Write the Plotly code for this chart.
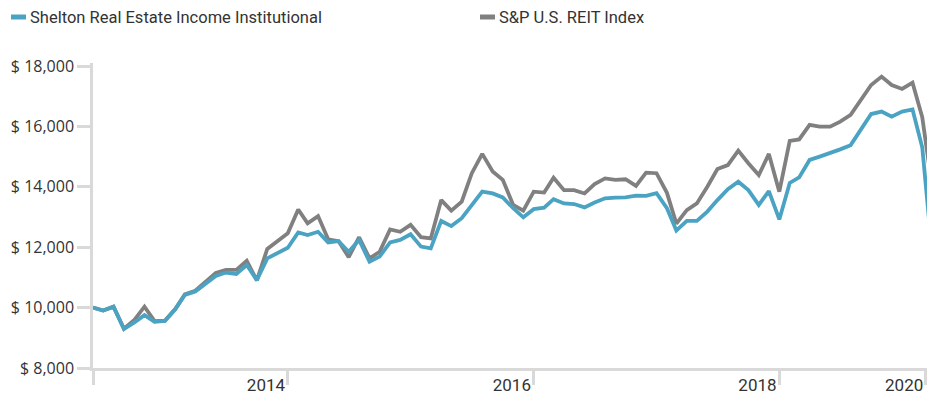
import pandas as pd
import plotly.graph_objects as go

# Monthly month-end values, May 2013 - Mar 2020 (growth of $10,000)
months = pd.date_range("2013-05-31", periods=83, freq="ME")

shelton = [
    10000, 9900, 10030, 9290, 9500, 9750, 9530, 9560, 9950, 10420,
    10530, 10780, 11050, 11160, 11110, 11410, 10910, 11630, 11800, 11980,
    12490, 12400, 12510, 12160, 12200, 11850, 12240, 11520, 11690, 12160,
    12240, 12430, 12020, 11960, 12870, 12700, 12960, 13400, 13840, 13780,
    13650, 13290, 12990, 13260, 13310, 13590, 13450, 13430, 13320, 13480,
    13620, 13640, 13650, 13710, 13700, 13790, 13290, 12550, 12870, 12870,
    13180, 13560, 13920, 14170, 13890, 13400, 13860, 12920, 14130, 14310,
    14890, 15000, 15110, 15240, 15380, 15900, 16410, 16490, 16320, 16490,
    16560, 15300, 11600,
]

reit = [
    10000, 9900, 10030, 9300, 9580, 10030, 9550, 9570, 9960, 10440,
    10560, 10850, 11150, 11250, 11250, 11550, 10900, 11940, 12180, 12460,
    13250, 12790, 13030, 12260, 12200, 11670, 12330, 11630, 11850, 12590,
    12510, 12740, 12330, 12290, 13560, 13210, 13510, 14450, 15090, 14510,
    14230, 13400, 13210, 13840, 13810, 14300, 13890, 13890, 13780, 14090,
    14280, 14230, 14250, 14030, 14470, 14450, 13800, 12780, 13230, 13450,
    14000, 14590, 14720, 15200, 14780, 14390, 15090, 13840, 15520, 15570,
    16050, 15990, 15990, 16160, 16380, 16870, 17370, 17650, 17370, 17240,
    17450, 16300, 13850,
]

series_names = ["Shelton Real Estate Income Institutional", "S&P U.S. REIT Index"]
series_colors = ["#4ba3c3", "#808080"]

x_tick_dates = ["2013-05-31", "2014-12-31", "2016-12-31", "2018-12-31", "2020-03-11"]
x_tick_labels = ["", "2014", "2016", "2018", "2020"]
y_tick_values = [8000, 10000, 12000, 14000, 16000, 18000]
y_tick_labels = ["$ 8,000", "$ 10,000", "$ 12,000", "$ 14,000", "$ 16,000", "$ 18,000"]

W, H = 927, 405
ML, MR, MT, MB = 93, 0, 63, 37
AXIS = "#d9d9d9"
TEXT = "#333333"

fig = go.Figure()
fig.add_trace(go.Scatter(x=months, y=reit, mode="lines", name=series_names[1],
                         line=dict(color=series_colors[1], width=3.8), showlegend=False))
fig.add_trace(go.Scatter(x=months, y=shelton, mode="lines", name=series_names[0],
                         line=dict(color=series_colors[0], width=3.8), showlegend=False))

def px_to_paper_x(px):
    return (px - ML) / (W - ML - MR)

def px_to_paper_y(py):
    return 1 + (MT - py) / (H - MT - MB)

legend_font = dict(family="Roboto, sans-serif", size=16.5, color=TEXT)
legend_items = [(11, 26, 28), (480, 495, 497)]
for (d0, d1, tx), name, color in zip(legend_items, series_names, series_colors):
    fig.add_shape(type="line", xref="paper", yref="paper",
                  x0=px_to_paper_x(d0), x1=px_to_paper_x(d1),
                  y0=px_to_paper_y(17), y1=px_to_paper_y(17),
                  line=dict(color=color, width=5))
    fig.add_annotation(xref="paper", yref="paper", x=px_to_paper_x(tx), y=px_to_paper_y(17),
                       text=name, showarrow=False, xanchor="left", yanchor="middle",
                       font=legend_font)

fig.update_layout(
    width=W, height=H,
    margin=dict(l=ML, r=MR, t=MT, b=MB, autoexpand=False),
    paper_bgcolor="white", plot_bgcolor="white",
    hovermode=False,
    xaxis=dict(
        type="date",
        range=["2013-05-31", "2020-03-14"],
        tickmode="array", tickvals=x_tick_dates, ticktext=x_tick_labels,
        ticks="outside", ticklen=14, tickwidth=2.5, tickcolor=AXIS,
        ticklabelposition="outside left",
        showline=True, linecolor=AXIS, linewidth=3,
        showgrid=False, zeroline=False, automargin=False,
        tickfont=dict(family="Roboto, sans-serif", size=17, color=TEXT),
    ),
    yaxis=dict(
        range=[8000, 18100],
        tickmode="array", tickvals=y_tick_values, ticktext=y_tick_labels,
        ticks="outside", ticklen=13, tickwidth=2.5, tickcolor=AXIS,
        showline=True, linecolor=AXIS, linewidth=2.5,
        showgrid=False, zeroline=False, automargin=False,
        tickfont=dict(family="Open Sans, sans-serif", size=16, color=TEXT),
    ),
)

fig.write_html(
    "out.html",
    config={"displayModeBar": False},
    post_script="document.body.style.margin='0';document.body.style.overflow='hidden';",
)
